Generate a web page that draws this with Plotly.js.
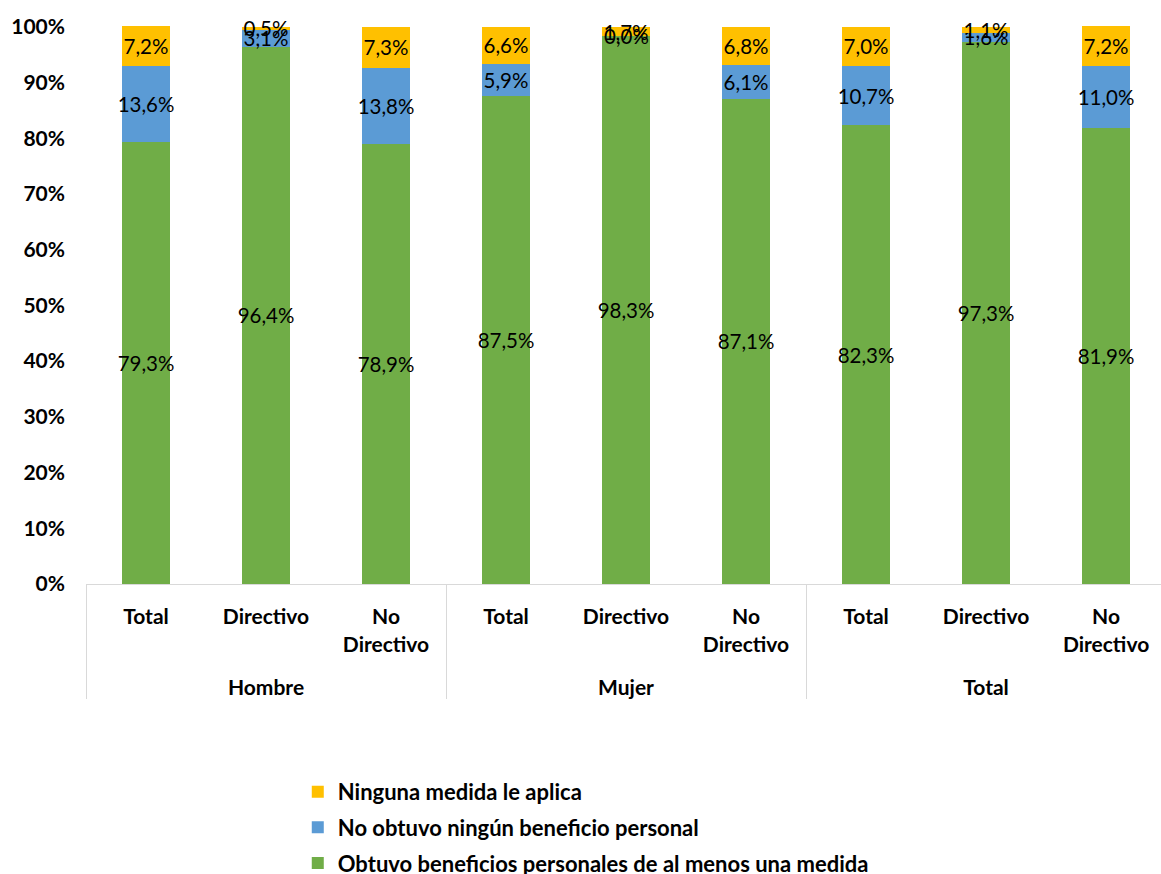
<!DOCTYPE html>
<html>
<head>
<meta charset="utf-8">
<script src="https://cdn.plot.ly/plotly-3.0.1.min.js"></script>
<style>html,body{margin:0;padding:0;overflow:hidden;background:#fff;}</style>
</head>
<body>
<div id="chart" style="width:1161px;height:874px;"></div>
<script>
const groups = ["Hombre","Hombre","Hombre","Mujer","Mujer","Mujer","Total","Total","Total"];
const subcats = ["Total","Directivo","No<br>Directivo","Total","Directivo","No<br>Directivo","Total","Directivo","No<br>Directivo"];
const obtuvo = [79.3, 96.4, 78.9, 87.5, 98.3, 87.1, 82.3, 97.3, 81.9];
const noObtuvo = [13.6, 3.1, 13.8, 5.9, 0.0, 6.1, 10.7, 1.6, 11.0];
const ninguna = [7.2, 0.5, 7.3, 6.6, 1.7, 6.8, 7.0, 1.1, 7.2];
const seriesNames = ["Obtuvo beneficios personales de al menos una medida","No obtuvo ningún beneficio personal","Ninguna medida le aplica"];
const colors = ["#70AD47","#5B9BD5","#FFC000"];
const legendRanks = [3, 2, 1];

const FONT = "Lato, 'Open Sans', sans-serif";
const LABEL_SIZE = 20.5;
// extra invisible line under the two-line labels pushes the group labels down
const tickLabels = subcats.map(s => s.indexOf("<br>") >= 0 ? s + "<br><span style='font-size:34px'>\u00a0</span>" : s);
const x = [groups, tickLabels];
const series = [obtuvo, noObtuvo, ninguna];
const traces = series.map((vals, i) => ({
  type: "bar",
  x: x,
  y: vals,
  name: seriesNames[i],
  legendgroup: "g" + i,
  legendrank: legendRanks[i],
  marker: {color: colors[i]},
  width: 0.4,
  texttemplate: "%{y:.1f}%",
  textposition: "inside",
  insidetextanchor: "middle",
  constraintext: "none",
  textangle: 0,
  cliponaxis: false,
  textfont: {family: FONT, size: LABEL_SIZE, color: "#000"},
  hoverinfo: "skip"
}));

// labels for zero-height segments (bar text is not drawn for them)
const annotations = [];
series.forEach((vals, i) => {
  vals.forEach((v, j) => {
    if (v === 0) {
      let base = 0;
      for (let k = 0; k < i; k++) base += series[k][j];
      annotations.push({
        x: j, xref: "x", y: base + v / 2, yref: "y",
        text: v.toFixed(1).replace(".", ",") + "%",
        showarrow: false,
        font: {family: FONT, size: LABEL_SIZE, color: "#000"}
      });
    }
  });
});

const layout = {
  width: 1161, height: 874,
  margin: {l: 86, r: 0, t: 26, b: 290, autoexpand: false},
  barmode: "stack",
  separators: ",.",
  paper_bgcolor: "#fff",
  plot_bgcolor: "#fff",
  showlegend: true,
  annotations: annotations,
  legend: {
    x: 0.197, y: -0.335, xanchor: "left", yanchor: "top",
    traceorder: "grouped",
    tracegroupgap: 4,
    font: {family: FONT, size: 22, color: "#000", weight: "bold"},
    itemwidth: 30
  },
  xaxis: {
    type: "multicategory",
    range: [-0.5, 8.458],
    showline: true, linecolor: "#d9d9d9", linewidth: 1,
    showdividers: true, dividercolor: "#d9d9d9", dividerwidth: 1,
    ticks: "",
    ticklabelstandoff: 14,
    tickfont: {family: FONT, size: 21, color: "#000", weight: "bold"},
    showgrid: false
  },
  yaxis: {
    range: [0, 100.15],
    dtick: 10,
    ticksuffix: "%",
    showgrid: false,
    showline: false,
    zeroline: false,
    ticklabelstandoff: 20,
    tickfont: {family: FONT, size: 21, color: "#000", weight: "bold"}
  },
  font: {family: FONT}
};

Plotly.newPlot("chart", traces, layout, {displayModeBar: false, staticPlot: true});
</script>
</body>
</html>
